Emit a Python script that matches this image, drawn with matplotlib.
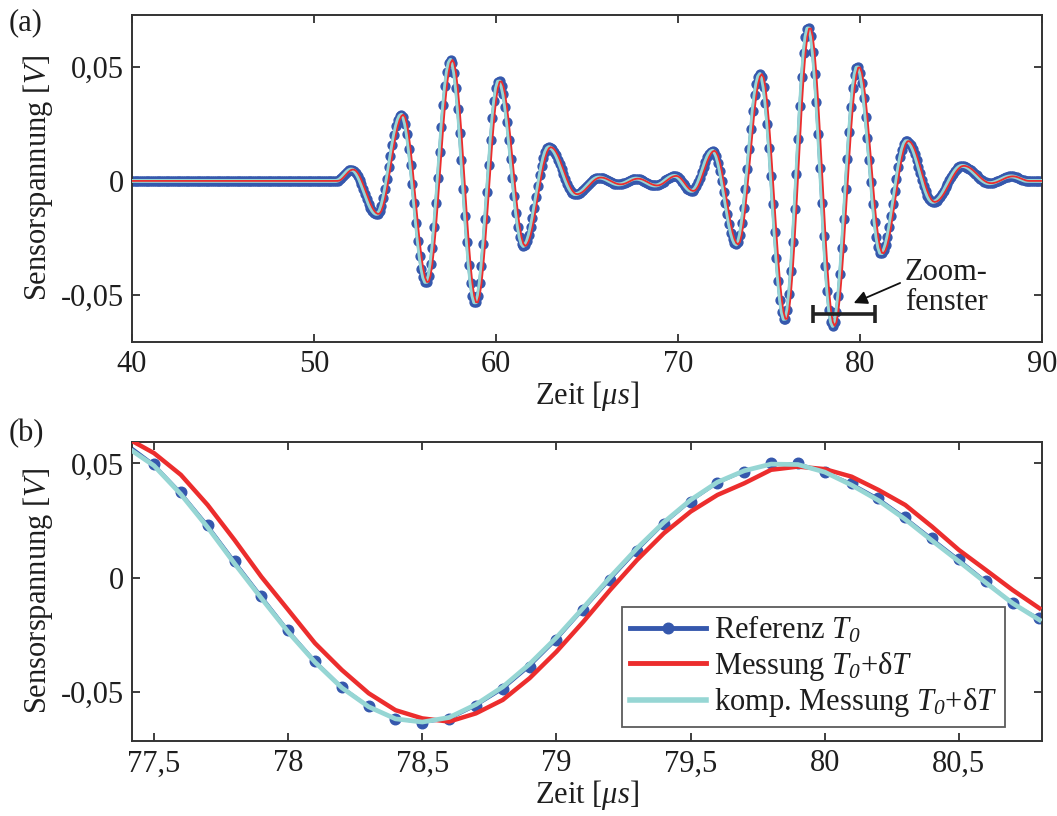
import numpy as np
import matplotlib
matplotlib.use('Agg')
import matplotlib.pyplot as plt
from matplotlib.lines import Line2D
from matplotlib.ticker import FuncFormatter

# ---------------- data ----------------
# (a) extrema of the reference signal: time [us], voltage [V]
peak_t = [40.0, 51.2, 52.05, 53.45, 54.8, 56.15, 57.5, 58.85, 60.15, 61.5, 62.9,
          64.35, 65.65, 66.75, 67.7, 68.75, 69.8, 70.75, 71.9, 73.2, 74.5, 75.85,
          77.15, 78.5, 79.85, 81.15, 82.55, 84.0, 85.6, 87.1, 88.3, 89.2, 90.0]
peak_v = [0.0, 0.0, 0.005, -0.0145, 0.029, -0.0445, 0.053, -0.0535, 0.0438, -0.0285, 0.0148,
          -0.0058, 0.0015, -0.0015, 0.001, -0.002, 0.0022, -0.0044, 0.0132, -0.0278, 0.0468, -0.0608,
          0.0672, -0.0635, 0.0500, -0.0318, 0.0175, -0.0092, 0.0066, -0.0010, 0.0020, 0.0, 0.0]
meas_delay = 0.10          # time delay of the measurement at T0+dT [us]
sample_step = 0.1          # sampling interval [us]

# (b) zoom window samples
zoom_t = [77.4, 77.5, 77.6, 77.7, 77.8, 77.9, 78.0, 78.1, 78.2, 78.3, 78.4, 78.5,
          78.6, 78.7, 78.8, 78.9, 79.0, 79.1, 79.2, 79.3, 79.4, 79.5, 79.6, 79.7,
          79.8, 79.9, 80.0, 80.1, 80.2, 80.3, 80.4, 80.5, 80.6, 80.7, 80.8]
zoom_ref = [0.0585, 0.0497, 0.0374, 0.0231, 0.0074, -0.0079, -0.0229, -0.0363, -0.0477, -0.0562,
            -0.0620, -0.0635, -0.0620, -0.0562, -0.0489, -0.0390, -0.0273, -0.0141, -0.0010,
            0.0117, 0.0234, 0.0333, 0.0413, 0.0464, 0.0501, 0.0501, 0.0464, 0.0413, 0.0348,
            0.0264, 0.0172, 0.0081, -0.0014, -0.0112, -0.0178]
zoom_meas = [0.0610, 0.0545, 0.0450, 0.0318, 0.0165, 0.0004, -0.0141, -0.0287, -0.0404, -0.0506,
             -0.0580, -0.0616, -0.0630, -0.0594, -0.0535, -0.0440, -0.0324, -0.0193, -0.0054,
             0.0077, 0.0194, 0.0289, 0.0362, 0.0413, 0.0472, 0.0486, 0.0475, 0.0442, 0.0384,
             0.0318, 0.0223, 0.0121, 0.0034, -0.0054, -0.0134]
zoom_komp = [0.0570, 0.0490, 0.0365, 0.0220, 0.0062, -0.0090, -0.0238, -0.0370, -0.0482, -0.0565,
             -0.0618, -0.0632, -0.0612, -0.0555, -0.0478, -0.0378, -0.0262, -0.0132, 0.0002,
             0.0128, 0.0242, 0.0340, 0.0418, 0.0468, 0.0497, 0.0495, 0.0462, 0.0405, 0.0338,
             0.0255, 0.0162, 0.0071, -0.0022, -0.0112, -0.0185]
zoom_window = [77.42, 80.81]
zoom_bar_v = -0.0583

labels = ['Referenz $T_{\\mathsf{0}}$', 'Messung $T_{\\mathsf{0}}$+δ$T$',
          'komp. Messung $T_{\\mathsf{0}}$+δ$T$']

# ---------------- style ----------------
plt.rcParams['font.family'] = ['Liberation Serif', 'DejaVu Serif']
plt.rcParams['mathtext.fontset'] = 'custom'
plt.rcParams['mathtext.rm'] = 'Liberation Serif'
plt.rcParams['mathtext.it'] = 'Liberation Serif:italic'
plt.rcParams['mathtext.sf'] = 'Liberation Serif:italic'   # used for italic digits
plt.rcParams['mathtext.bf'] = 'Liberation Serif:bold'

BLUE = '#3558ad'
RED = '#ec2d2d'
CYAN = '#96d6d4'
FS = 22
SPINE = '#333333'
TXT = '#1e1e1e'


def curve(t, tk, vk):
    """smooth half-cosine path through the read extrema"""
    t = np.asarray(t, float)
    tk = np.asarray(tk, float)
    vk = np.asarray(vk, float)
    idx = np.clip(np.searchsorted(tk, t, side='right') - 1, 0, len(tk) - 2)
    t0, t1 = tk[idx], tk[idx + 1]
    v0, v1 = vk[idx], vk[idx + 1]
    ph = np.clip((t - t0) / (t1 - t0), 0, 1)
    return (v0 + v1) / 2 + (v0 - v1) / 2 * np.cos(np.pi * ph)


def comma(v, p):
    return ('%g' % round(v, 4)).replace('.', ',')


fig = plt.figure(figsize=(10.57, 8.16), dpi=100)
axA = fig.add_axes([0.1249, 0.5813, 0.861, 0.4004])
axB = fig.add_axes([0.1249, 0.0919, 0.861, 0.3668])

for ax in (axA, axB):
    ax.tick_params(direction='in', length=6, width=1.2, top=True, right=True,
                   labelsize=FS, colors=TXT, pad=6)
    for s in ax.spines.values():
        s.set_color(SPINE)
        s.set_linewidth(1.4)
    ax.yaxis.set_major_formatter(FuncFormatter(comma))
    ax.xaxis.set_major_formatter(FuncFormatter(comma))
    ax.set_ylabel('Sensorspannung [$V$]', fontsize=FS, labelpad=4, color=TXT)
    ax.set_xlabel('Zeit [$\\mu s$]', fontsize=FS, labelpad=0, color=TXT)

# ---------------- (a) ----------------
t_s = np.round(np.arange(40.0, 90.0 + 1e-9, sample_step), 1)
ref = curve(t_s, peak_t, peak_v)
meas = curve(t_s - meas_delay, peak_t, peak_v)
komp = curve(t_s, peak_t, peak_v)

axA.plot(t_s, ref, color=BLUE, lw=2.4, marker='o', ms=6.4, mec=BLUE, mfc=BLUE, zorder=2)
axA.plot(t_s, komp, color=CYAN, lw=2.8, zorder=3)
axA.plot(t_s, meas, color=RED, lw=1.3, zorder=4)

axA.set_xlim(40, 90)
axA.set_ylim(-0.0704, 0.0727)
axA.set_xticks([40, 50, 60, 70, 80, 90])
axA.set_yticks([-0.05, 0, 0.05])

# zoom window marker
axA.plot(zoom_window, [zoom_bar_v, zoom_bar_v], color='#222222', lw=2.6, zorder=6,
         marker='|', ms=13, mew=2.6, solid_capstyle='butt')
axA.annotate('', xy=(79.65, -0.0535), xytext=(82.2, -0.0447),
             arrowprops=dict(arrowstyle='-|>', color='#111111', lw=1.3,
                             mutation_scale=20, shrinkA=0, shrinkB=0), zorder=6)
axA.text(82.45, -0.0467, 'Zoom-\nfenster', fontsize=FS, ha='left', va='center',
         linespacing=1.05, color=TXT)

# ---------------- (b) ----------------
axB.plot(zoom_t, zoom_ref, color=BLUE, lw=1.6, marker='o', ms=7.6, mec=BLUE, mfc=BLUE,
         markevery=slice(1, None), zorder=2)
axB.plot(zoom_t, zoom_meas, color=RED, lw=3.2, zorder=3)
axB.plot(zoom_t, zoom_komp, color=CYAN, lw=3.4, zorder=4)
axB.set_xlim(77.418, 80.81)
axB.set_ylim(-0.0715, 0.0595)
axB.set_xticks([77.5, 78, 78.5, 79, 79.5, 80, 80.5])
axB.set_yticks([-0.05, 0, 0.05])

handles = [Line2D([], [], color=BLUE, lw=3.5, marker='o', ms=7.6, mec=BLUE, mfc=BLUE),
           Line2D([], [], color=RED, lw=3.5),
           Line2D([], [], color=CYAN, lw=4.0)]
leg = axB.legend(handles, labels, loc='lower right', bbox_to_anchor=(0.959, 0.047),
                 fontsize=FS, frameon=True, fancybox=False, handlelength=2.5,
                 handletextpad=0.25, labelspacing=0.12, borderpad=0.25, borderaxespad=0.0,
                 markerscale=1.0)
leg.get_frame().set_edgecolor('#333333')
leg.get_frame().set_linewidth(1.3)
for txt in leg.get_texts():
    txt.set_color(TXT)

fig.text(0.008, 0.972, '(a)', fontsize=FS, ha='left', va='center', color=TXT)
fig.text(0.008, 0.469, '(b)', fontsize=FS, ha='left', va='center', color=TXT)

fig.savefig('out.png', dpi=100)
